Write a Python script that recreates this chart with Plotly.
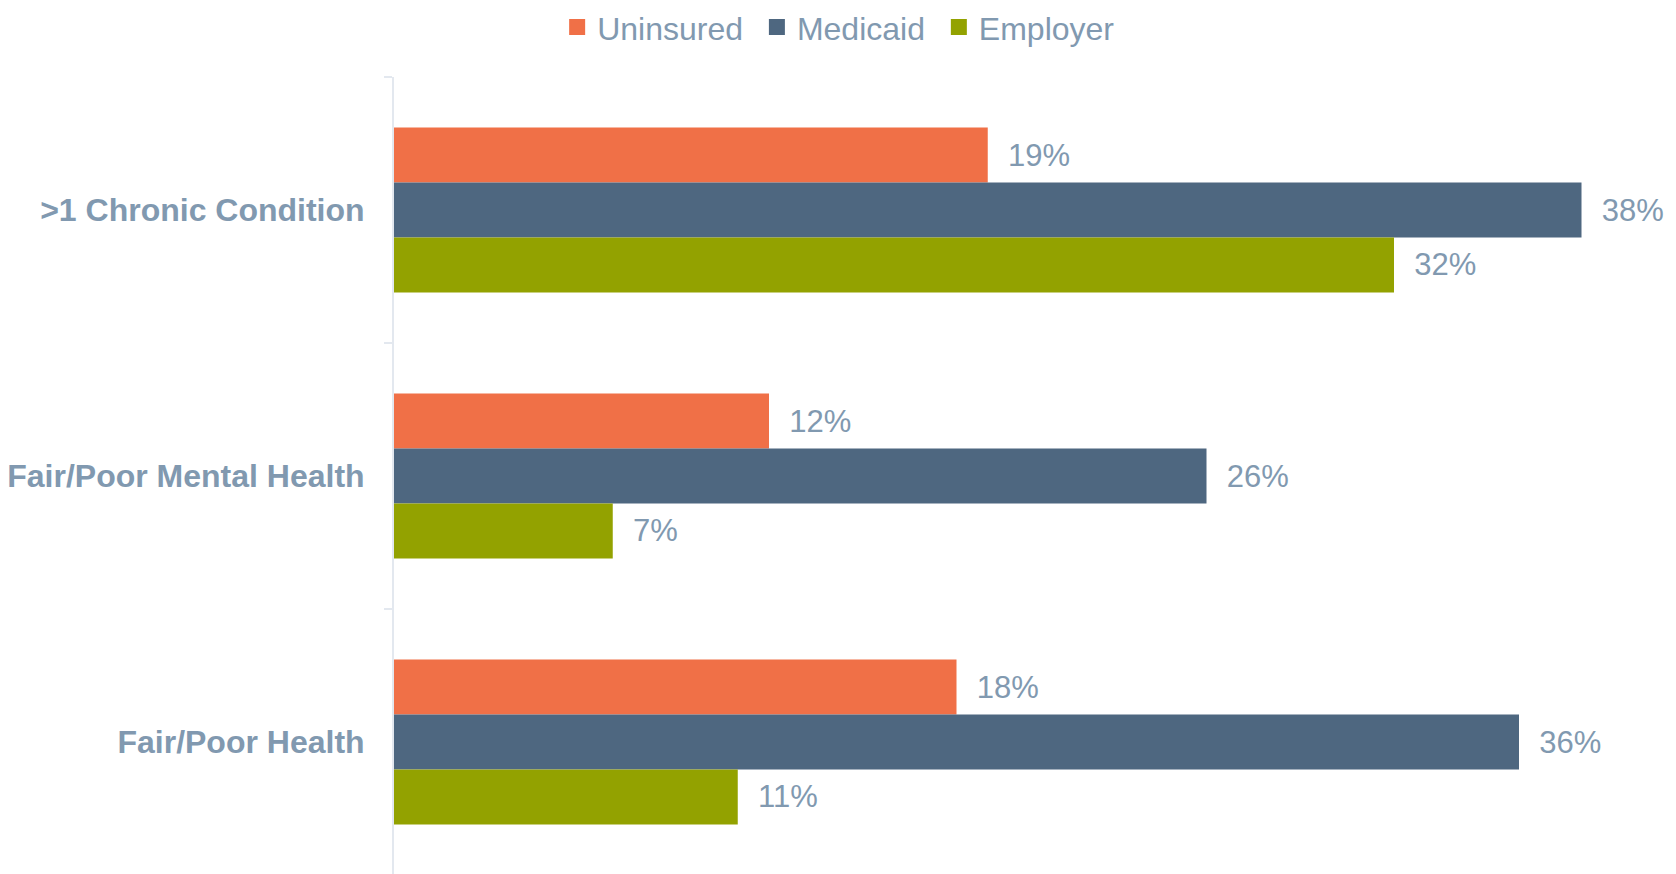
import plotly.graph_objects as go

# categories top-to-bottom, percent values per coverage group
categories = [">1 Chronic Condition", "Fair/Poor Mental Health", "Fair/Poor Health"]
uninsured = [19, 12, 18]
medicaid = [38, 26, 36]
employer = [32, 7, 11]

series = [
    ("Uninsured", uninsured, "#F07047"),
    ("Medicaid", medicaid, "#4E6780"),
    ("Employer", employer, "#93A200"),
]

FONT = "Liberation Sans, Arial, sans-serif"
TXT = "#8199B0"

fig = go.Figure()
for name, vals, col in series:
    fig.add_trace(go.Bar(
        name=name, y=categories, x=vals, orientation="h",
        marker=dict(color=col, line=dict(width=0)),
        texttemplate="\u00a0\u00a0%{x}%", textposition="outside",
        textfont=dict(size=31, color=TXT, family=FONT),
        constraintext="none", cliponaxis=False, showlegend=False,
    ))
    # legend-only entry with a bigger square swatch
    fig.add_trace(go.Scatter(
        name=name + "\u00a0", x=[None], y=[None], mode="markers",
        marker=dict(symbol="square", size=16, color=col),
    ))

# page body adds an 8px offset, margins compensate for it
fig.update_layout(
    width=1676, height=874,
    margin=dict(l=386, r=40, t=69, b=7, autoexpand=False),
    barmode="group", bargap=0.38, bargroupgap=0,
    plot_bgcolor="white", paper_bgcolor="white",
    font=dict(family=FONT, color=TXT),
    legend=dict(orientation="h", xref="container", yref="container",
                x=0.498, xanchor="center", y=0.978, yanchor="middle",
                font=dict(size=32, color=TXT, family=FONT),
                itemclick=False, itemdoubleclick=False),
    xaxis=dict(range=[0, 40], visible=False),
    yaxis=dict(autorange="reversed", tickson="boundaries", automargin=False,
               ticks="outside", ticklen=8, tickcolor="#E3E8EF", tickwidth=2,
               showline=True, linecolor="#E3E8EF", linewidth=2,
               showgrid=False, ticklabelstandoff=21,
               tickfont=dict(size=32, color=TXT, family=FONT, weight="bold")),
)

fig.write_html("out.html")
